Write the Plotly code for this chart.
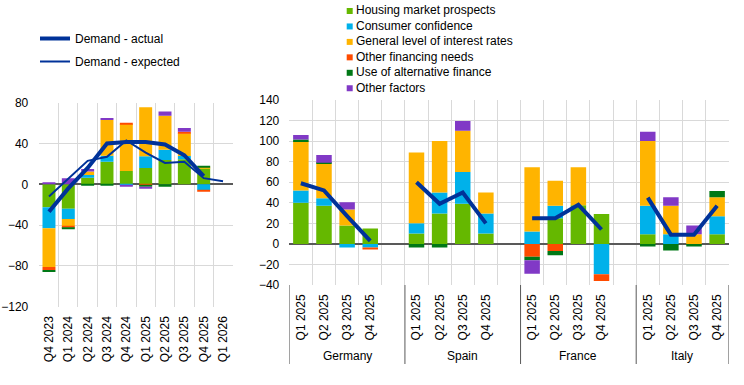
import plotly.graph_objects as go

FONT = "Liberation Sans, Arial, sans-serif"

# ---------------- Data: left panel (euro area) ----------------
left_quarters = ["Q4 2023", "Q1 2024", "Q2 2024", "Q3 2024", "Q4 2024",
                 "Q1 2025", "Q2 2025", "Q3 2025", "Q4 2025", "Q1 2026"]
left_housing = [-22.5, -24, 6.5, 22, 13, 16, 23.8, 24.5, 15.7, None]
left_consumer = [-20.5, -10, 2.5, 6, -1, 11.5, 10, 3.3, -5.6, None]
left_interest = [-38, -7, 3.5, 35, 46, 48, 33.5, 22.2, 1, None]
left_other_fin = [-3, -1, 0, 0, 1, -1, 0, 1.6, -0.9, None]
left_alt_fin = [-2, -2, -1, -1, 0, -1.3, -2.3, 0, 1.3, None]
left_other_factors = [2, 6, 2.5, 2, -1.5, -2, 4, 3.6, 0, None]
left_actual = [-27, -4, 16, 40, 41.5, 41.5, 39, 28.5, 8, None]
left_expected = [-12, 5.5, 23, 27, 43, 31, 21, 22, 6, 3]

# ---------------- Data: right panel (countries) ----------------
countries = ["Germany", "Spain", "France", "Italy"]
right_quarters = ["Q1 2025", "Q2 2025", "Q3 2025", "Q4 2025"]
# values in country order, four quarters each
right_housing = [40, 37, 18, 15, 10, 29.5, 39, 10, 0, 25, 37.5, 29, 9.5, 0, 0, 9.5]
right_consumer = [12, 7.5, -3.5, -3.5, 10, 20.5, 31, 19.5, 12, 12, 0, -29.5, 27.5, 9.5, 0, 17.5]
right_interest = [48, 33.5, 15.5, 0, 69, 50, 40, 20.5, 62.5, 24.5, 37, 0, 63, 27.5, 9.5, 18.5]
right_other_fin = [0, 0, 0, -2, 0, 0, 0, 0, -12.5, -7, 0, -6.5, 0, 0, 0, 0]
right_alt_fin = [1.5, 1, 0, 0, -3.5, -3.5, 0, 0, -3.5, -4, 0, 0, -2.5, -6.5, -2.5, 6]
right_other_factors = [4.5, 7.5, 7, 0, 0, 0, 9.5, 0, -13, 0, 0, 0, 9, 8.5, 8.5, 0]
right_actual = [59, 52, 27, 3, 60, 39, 50, 20, 25, 25, 38, 14, 45, 9, 9, 37]

series_names = ["Housing market prospects", "Consumer confidence",
                "General level of interest rates", "Other financing needs",
                "Use of alternative finance", "Other factors"]
series_colors = ["#65b800", "#00b1ea", "#ffb400", "#ff4b00", "#007816", "#8139c6"]
line_color = "#003299"

left_series = [left_housing, left_consumer, left_interest,
               left_other_fin, left_alt_fin, left_other_factors]
right_series = [right_housing, right_consumer, right_interest,
                right_other_fin, right_alt_fin, right_other_factors]

# ---------------- Build right-panel categories (with gap slots) ----------------
right_cats, right_ticktext, gap_flags = [], [], []
group_bounds = []
for ci, c in enumerate(countries):
    start = len(right_cats)
    for q in right_quarters:
        right_cats.append(f"{c} {q}")
        right_ticktext.append(q)
        gap_flags.append(False)
    if ci < len(countries) - 1:
        right_cats.append(f"{c} gap")
        right_ticktext.append("")
        gap_flags.append(True)
    group_bounds.append((start, len(right_cats)))


def expand(vals):
    it = iter(vals)
    return [None if g else next(it) for g in gap_flags]


fig = go.Figure()

for name, color, lv, rv in zip(series_names, series_colors, left_series, right_series):
    fig.add_trace(go.Bar(x=left_quarters, y=lv, name=name, marker_color=color,
                         marker_line_width=0, showlegend=False,
                         xaxis="x", yaxis="y"))
    fig.add_trace(go.Bar(x=right_cats, y=expand(rv), name=name, marker_color=color,
                         marker_line_width=0, showlegend=False,
                         xaxis="x2", yaxis="y2"))

fig.add_trace(go.Scatter(x=left_quarters, y=left_actual, mode="lines",
                         name="Demand - actual", legendgroup="a",
                         line=dict(color=line_color, width=4),
                         xaxis="x", yaxis="y"))
fig.add_trace(go.Scatter(x=left_quarters, y=left_expected, mode="lines",
                         name="Demand - expected", legendgroup="e",
                         line=dict(color=line_color, width=2),
                         xaxis="x", yaxis="y"))
fig.add_trace(go.Scatter(x=right_cats, y=expand(right_actual), mode="lines",
                         name="Demand - actual", showlegend=False,
                         connectgaps=False,
                         line=dict(color=line_color, width=4),
                         xaxis="x2", yaxis="y2"))

W, H = 744, 385


def px_x(p):
    return p / W


def px_y(p):
    return 1 - p / H


grid = "#d9d9d9"
tickfont = dict(family=FONT, size=12, color="#000000")

axis_common = dict(showgrid=True, gridcolor=grid, gridwidth=1, ticks="",
                   showline=False, tickfont=tickfont, automargin=False)

fig.update_layout(
    width=W, height=H,
    margin=dict(l=0, r=0, t=0, b=0),
    template="none",
    paper_bgcolor="white", plot_bgcolor="white",
    font=dict(family=FONT, size=12, color="#000000"),
    barmode="relative", bargap=0.33,
    showlegend=True,
    legend=dict(x=px_x(35), y=px_y(24), xanchor="left", yanchor="top",
                bgcolor="rgba(0,0,0,0)", font=dict(family=FONT, size=12),
                tracegroupgap=4, itemwidth=30),
    xaxis=dict(domain=[px_x(39.3), px_x(232.7)], anchor="y", type="category",
               categoryorder="array", categoryarray=left_quarters,
               range=[-0.5, len(left_quarters) - 0.5], tickson="boundaries",
               tickangle=-90, zeroline=False, ticklabelstandoff=6, **axis_common),
    yaxis=dict(domain=[px_y(306.7), px_y(102.7)], anchor="x", range=[-120, 80],
               tick0=0, dtick=40, zeroline=True, zerolinecolor="#595959",
               zerolinewidth=1.5, ticklabelstandoff=10, **axis_common),
    xaxis2=dict(domain=[px_x(289.3), px_x(728.7)], anchor="y2", type="category",
                categoryorder="array", categoryarray=right_cats,
                range=[-0.5, len(right_cats) - 0.5], tickson="boundaries",
                tickmode="array", tickvals=right_cats, ticktext=right_ticktext,
                tickangle=-90, zeroline=False, ticklabelstandoff=6, **axis_common),
    yaxis2=dict(domain=[px_y(285), px_y(100)], anchor="x2", range=[-40, 140],
                tick0=0, dtick=20, zeroline=True, zerolinecolor="#595959",
                zerolinewidth=1.5, ticklabelstandoff=9, **axis_common),
)

shapes, annotations = [], []

# group dividers and country labels
for (s, e), c in zip(group_bounds, countries):
    annotations.append(dict(x=(s + e - 1) / 2, xref="x2", y=px_y(356), yref="paper",
                            text=c, showarrow=False, xanchor="center", yanchor="middle",
                            font=dict(family=FONT, size=12, color="#000000")))
bounds = [group_bounds[0][0] - 0.5] + [e - 0.5 for _, e in group_bounds]
for b in bounds:
    shapes.append(dict(type="line", xref="x2", yref="paper", x0=b, x1=b,
                       y0=px_y(285), y1=px_y(364),
                       line=dict(color="#595959", width=1)))

# bar legend (manual)
for i, (name, color) in enumerate(zip(series_names, series_colors)):
    yc = 10.5 + 15.45 * i
    shapes.append(dict(type="rect", xref="paper", yref="paper",
                       x0=px_x(346.7), x1=px_x(352.7),
                       y0=px_y(yc + 3.5), y1=px_y(yc - 2.5),
                       fillcolor=color, line=dict(width=0)))
    annotations.append(dict(x=px_x(354), y=px_y(yc), xref="paper", yref="paper",
                            text=name, showarrow=False, xanchor="left",
                            yanchor="middle",
                            font=dict(family=FONT, size=12, color="#000000")))

fig.update_layout(shapes=shapes, annotations=annotations)

fig.write_html("out.html", config={"displayModeBar": False},
               post_script="document.body.style.margin='0';")
